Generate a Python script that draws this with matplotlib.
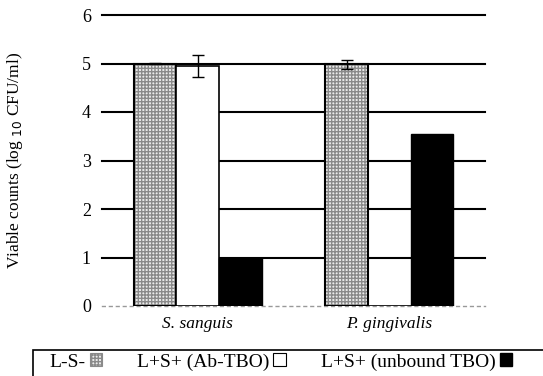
import numpy as np
import matplotlib.pyplot as plt
from matplotlib.patches import Rectangle

plt.rcParams['font.family'] = ['Liberation Serif', 'DejaVu Serif']
plt.rcParams['font.size'] = 12.5

groups = ["S. sanguis", "P. gingivalis"]
series = ["L-S-", "L+S+ (Ab-TBO)", "L+S+ (unbound TBO)"]
ls_minus = [5.0, 4.98]
ls_minus_err = [0.02, 0.1]
ab_tbo = [4.95, 0.0]
ab_tbo_err = [0.22, 0.0]
unbound_tbo = [1.0, 3.55]

fig = plt.figure(figsize=(5.43, 3.76), dpi=100)
ax = fig.add_axes([102/543, 1 - 306/376, 383/543, 291/376])

x = np.arange(len(groups))
w = 2/9

# stippled bars: grey pattern first, black outline on top
ax.bar(x - w, ls_minus, w, color='#ececec', hatch='+++++', edgecolor='#8a8a8a', linewidth=0, zorder=2)
ax.bar(x - w, ls_minus, w, fill=False, edgecolor='black', linewidth=1.5, zorder=3)
ax.errorbar(x - w, ls_minus, yerr=ls_minus_err, fmt='none', ecolor='black', capsize=4, elinewidth=1, zorder=4)

ax.bar(x, ab_tbo, w, color='white', edgecolor='black', linewidth=1.2, zorder=3)
err_idx = [i for i, e in enumerate(ab_tbo_err) if e > 0]
ax.errorbar(x[err_idx], np.array(ab_tbo)[err_idx], yerr=np.array(ab_tbo_err)[err_idx],
            fmt='none', ecolor='black', capsize=4, elinewidth=1, zorder=4)

ax.bar(x + w, unbound_tbo, w, color='black', edgecolor='black', zorder=3)

ax.set_xlim(-0.5, 1.5)
ax.set_ylim(0, 6)
ax.set_yticks(range(0, 7))
ax.set_xticks(x)
ax.set_xticklabels(groups, style='italic', fontsize=12.5)
ax.tick_params(axis='y', length=0, pad=8, labelsize=13)
ax.tick_params(axis='x', length=0, pad=7)

for s in ['left', 'right', 'top']:
    ax.spines[s].set_visible(False)
ax.spines['bottom'].set_color('#999999')
ax.spines['bottom'].set_linestyle((0, (2, 3)))
ax.spines['bottom'].set_linewidth(1)

ax.set_axisbelow(True)
ax.yaxis.grid(True, color='black', linewidth=1.5)
for gl in ax.get_ygridlines():
    gl.set_clip_on(False)
ax.get_ygridlines()[0].set_visible(False)

ax.set_ylabel("Viable counts (log $_{10}$ CFU/ml)", fontsize=12.5)
ax.yaxis.set_label_coords(-0.2, 0.5)

# legend with swatches after labels, framed box running off the page
handles = [
    Rectangle((0, 0), 1, 1, facecolor='#ececec', hatch='+++++', edgecolor='#8a8a8a', linewidth=0.8),
    Rectangle((0, 0), 1, 1, facecolor='white', edgecolor='black', linewidth=0.8),
    Rectangle((0, 0), 1, 1, facecolor='black', edgecolor='black'),
]
fig.legend(handles, series, ncol=3, markerfirst=False, frameon=False,
           loc='center left', bbox_to_anchor=(32/543, 1 - 362/376),
           handlelength=0.65, handleheight=0.65, handletextpad=0.2,
           columnspacing=1.8, fontsize=14)
fig.patches.append(Rectangle((33/543, -0.2), 1.0, 0.2 + 26/376, transform=fig.transFigure,
                             fill=False, edgecolor='black', linewidth=1.2))

fig.savefig("out.png", dpi=100)
